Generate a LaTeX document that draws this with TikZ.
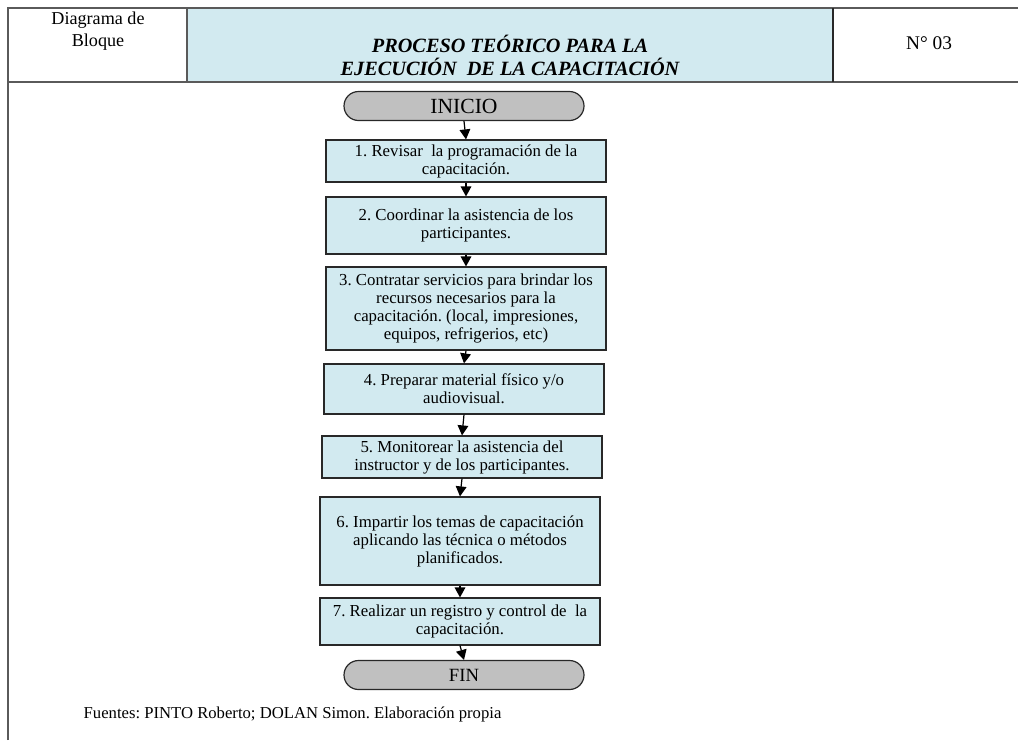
\documentclass[tikz,border=0pt]{standalone}
\usepackage{fontspec}
\setmainfont{Liberation Serif}
\usetikzlibrary{arrows.meta,shapes.misc}
\frenchspacing

\definecolor{boxblue}{RGB}{210,234,240}
\definecolor{termgray}{RGB}{192,192,192}
\definecolor{rulegray}{RGB}{90,90,90}
\definecolor{edgedark}{RGB}{40,40,40}

% one drawing unit is 0.75pt; sizes below are written in those units
\tikzset{
  stepbox/.style={draw=edgedark, line width=0.9pt, fill=boxblue,
    minimum width=210pt, inner sep=0pt, align=center,
    font=\fontsize{12.6}{13.5}\selectfont},
  termbox/.style={draw=edgedark, line width=0.9pt, fill=termgray,
    rounded rectangle, minimum width=180pt, minimum height=21.75pt, inner sep=0pt},
  flow/.style={-{Triangle[width=8pt,length=7.5pt]}, line width=0.9pt, draw=black},
}

\begin{document}
\begin{tikzpicture}[x=0.75pt,y=-0.75pt]
\useasboundingbox (0,0) rectangle (1018,740);

% header frame
\fill[boxblue] (187,8) rectangle (833,82);
\draw[rulegray, line width=0.9pt] (8,740) -- (8,8) -- (1018,8);
\draw[rulegray, line width=0.9pt] (8,82) -- (1018,82);
\draw[rulegray, line width=0.9pt] (187,8) -- (187,82);
\draw[edgedark, line width=0.9pt] (833,8) -- (833,82);

\node[align=center, font=\fontsize{13.6}{16.5}\selectfont] (kind) at (98,31) {Diagrama de\\Bloque};
\node[align=center, font=\fontsize{15.2}{17.25}\selectfont\bfseries\itshape] (title) at (510,55)
  {PROCESO TEÓRICO PARA LA\\EJECUCIÓN\ \ DE LA CAPACITACIÓN};
\node[font=\fontsize{14.5}{16}\selectfont] (num) at (929,43) {N° 03};

% flow
\node[termbox, font=\fontsize{16.2}{18}\selectfont] (start) at (464,106) {INICIO};
\node[stepbox, minimum height=31.5pt] (s1) at (466,161)
  {1. Revisar\ \ la programación de la\\capacitación.};
\node[stepbox, minimum height=42.75pt] (s2) at (466,225.5)
  {2. Coordinar la asistencia de los\\participantes.};
\node[stepbox, minimum height=62.25pt] (s3) at (466,308.5)
  {3. Contratar servicios para brindar los\\recursos necesarios para la\\capacitación. (local, impresiones,\\equipos, refrigerios, etc)};
\node[stepbox, minimum height=37.5pt] (s4) at (464,389)
  {4. Preparar material físico y/o\\audiovisual.};
\node[stepbox, minimum height=31.5pt] (s5) at (462,457)
  {5. Monitorear la asistencia del\\instructor y de los participantes.};
\node[stepbox, minimum height=66pt] (s6) at (460,541)
  {6. Impartir los temas de capacitación\\aplicando las técnica o métodos\\planificados.};
\node[stepbox, minimum height=35.25pt] (s7) at (460,621.5)
  {7. Realizar un registro y control de\ \ la\\capacitación.};
\node[termbox, font=\fontsize{14}{16}\selectfont] (stop) at (464,675) {FIN};

\draw[flow] (start.south) -- (s1.north);
\draw[flow] (s1.south) -- (s2.north);
\draw[flow] (s2.south) -- (s3.north);
\draw[flow] (s3.south) -- (s4.north);
\draw[flow] (s4.south) -- (s5.north);
\draw[flow] (s5.south) -- (s6.north);
\draw[flow] (s6.south) -- (s7.north);
\draw[flow] (s7.south) -- (stop.north);

\node[anchor=west, font=\fontsize{12.5}{14}\selectfont] (src) at (79,714)
  {Fuentes: PINTO Roberto; DOLAN Simon. Elaboración propia};
\end{tikzpicture}
\end{document}
